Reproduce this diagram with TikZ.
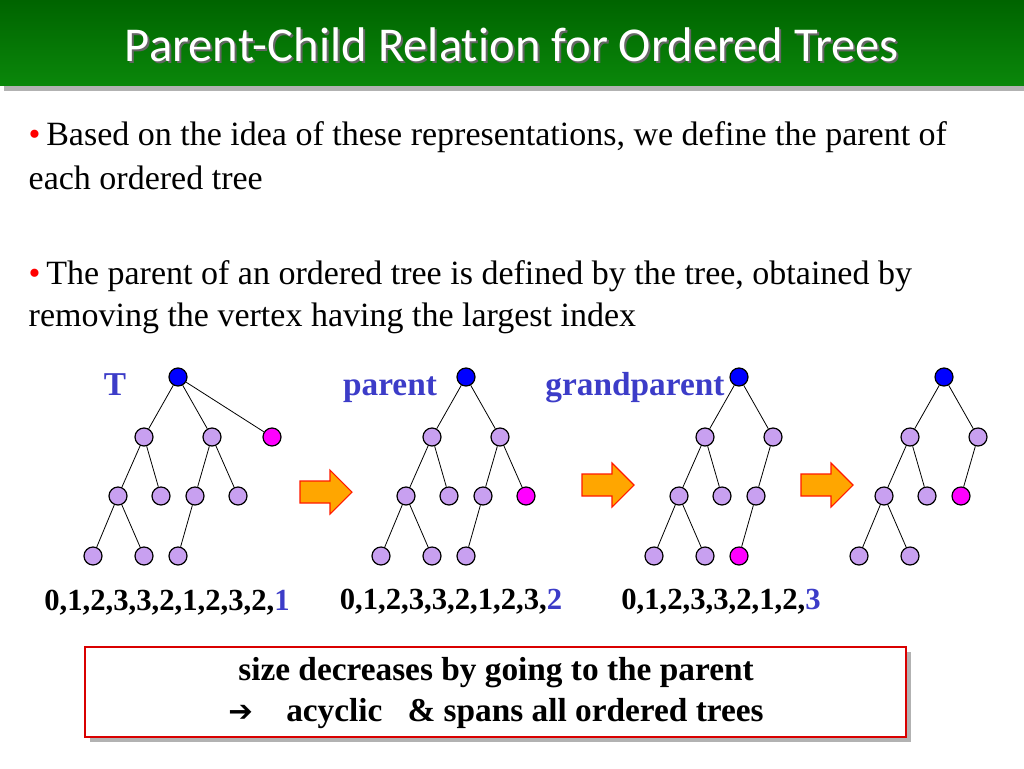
\documentclass[tikz,border=0pt]{standalone}
\usepackage{fontspec}
\setmainfont{Liberation Serif}
\newfontfamily\titlefont[Ligatures={NoCommon}]{Carlito}
\newfontfamily\symfont{DejaVu Sans}
\usetikzlibrary{shadows}
\definecolor{gtop}{RGB}{0,100,0}
\definecolor{gbot}{RGB}{10,135,10}
\definecolor{lav}{RGB}{200,160,240}
\definecolor{mag}{RGB}{255,0,255}
\definecolor{lblue}{RGB}{60,60,200}
\tikzset{
 v/.style={circle,draw=black,line width=0.9pt,fill=lav,minimum size=13.5pt,inner sep=0pt},
 vr/.style={v,fill=blue},
 vm/.style={v,fill=mag},
 e/.style={line width=0.6pt},
 barrow/.style={draw=red!80!orange,fill=orange!70!yellow,line width=0.8pt},
 body/.style={font=\fontsize{25.5}{30}\selectfont,anchor=west},
 seq/.style={font=\fontsize{23}{27}\selectfont\bfseries},
 lbl/.style={font=\fontsize{25}{29}\selectfont\bfseries,text=lblue}
}
\newcommand\blockarrow[2]{\draw[barrow] (#1-26,#2-11) -- (#1+4,#2-11) -- (#1+4,#2-22) -- (#1+26,#2) -- (#1+4,#2+22) -- (#1+4,#2+11) -- (#1-26,#2+11) -- cycle;}
\begin{document}
\begin{tikzpicture}[x=0.75pt,y=-0.75pt]
\useasboundingbox (0,0) rectangle (1024,768);
\fill[white] (0,0) rectangle (1024,768);
\fill[gray!60] (4,85) rectangle (1024,91);
\shade[top color=gtop,bottom color=gbot] (0,0) rectangle (1024,85);
\node[font=\titlefont\fontsize{36.5}{40}\selectfont,text=black!60] at (514,47) {Parent-Child Relation for Ordered Trees};
\node (title) [font=\titlefont\fontsize{36.5}{40}\selectfont,text=white] at (512,45) {Parent-Child Relation for Ordered Trees};
\node (b1) [body] at (24,137) {\textcolor{red}{\textbullet}\,Based on the idea of these representations, we define the parent of};
\node (b1b) [body] at (24,178) {each ordered tree};
\node (b2) [body] at (24,276) {\textcolor{red}{\textbullet}\,The parent of an ordered tree is defined by the tree, obtained by};
\node (b2b) [body] at (24,318) {removing the vertex having the largest index};
% tree 1
\node[vr] (a0) at (178,377) {};
\node[v] (a1) at (144,437) {}; \node[v] (a2) at (212,437) {}; \node[vm] (a3) at (272,437) {};
\node[v] (a4) at (118,496) {}; \node[v] (a5) at (161,496) {}; \node[v] (a6) at (195,496) {}; \node[v] (a7) at (238,496) {};
\node[v] (a8) at (93,556) {}; \node[v] (a9) at (144,556) {}; \node[v] (a10) at (178,556) {};
\draw[e] (a0)--(a1) (a0)--(a2) (a0)--(a3) (a1)--(a4) (a1)--(a5) (a2)--(a6) (a2)--(a7) (a4)--(a8) (a4)--(a9) (a6)--(a10);
% tree 2
\node[vr] (b0) at (466,377) {};
\node[v] (b1n) at (432,437) {}; \node[v] (b2n) at (500,437) {};
\node[v] (b4) at (406,496) {}; \node[v] (b5) at (449,496) {}; \node[v] (b6) at (483,496) {}; \node[vm] (b7) at (526,496) {};
\node[v] (b8) at (381,556) {}; \node[v] (b9) at (432,556) {}; \node[v] (b10) at (466,556) {};
\draw[e] (b0)--(b1n) (b0)--(b2n) (b1n)--(b4) (b1n)--(b5) (b2n)--(b6) (b2n)--(b7) (b4)--(b8) (b4)--(b9) (b6)--(b10);
% tree 3
\node[vr] (c0) at (739,377) {};
\node[v] (c1) at (705,437) {}; \node[v] (c2) at (773,437) {};
\node[v] (c4) at (679,496) {}; \node[v] (c5) at (722,496) {}; \node[v] (c6) at (756,496) {};
\node[v] (c8) at (654,556) {}; \node[v] (c9) at (705,556) {}; \node[vm] (c10) at (739,556) {};
\draw[e] (c0)--(c1) (c0)--(c2) (c1)--(c4) (c1)--(c5) (c2)--(c6) (c4)--(c8) (c4)--(c9) (c6)--(c10);
% tree 4
\node[vr] (d0) at (944,377) {};
\node[v] (d1) at (910,437) {}; \node[v] (d2) at (978,437) {};
\node[v] (d4) at (884,496) {}; \node[v] (d5) at (927,496) {}; \node[vm] (d6) at (961,496) {};
\node[v] (d8) at (859,556) {}; \node[v] (d9) at (910,556) {};
\draw[e] (d0)--(d1) (d0)--(d2) (d1)--(d4) (d1)--(d5) (d2)--(d6) (d4)--(d8) (d4)--(d9);
% arrows
\blockarrow{326}{492}
\blockarrow{608}{485}
\blockarrow{827}{485}
% labels
\node[lbl] (lT) at (115,385) {T};
\node[lbl] (lp) at (390,390) {parent};
\node[lbl] (lg) at (635,388) {grandparent};
\node[seq] (s1) at (167,603) {0,1,2,3,3,2,1,2,3,2,\textcolor{lblue}{1}};
\node[seq] (s2) at (451,602) {0,1,2,3,3,2,1,2,3,\textcolor{lblue}{2}};
\node[seq] (s3) at (721,602) {0,1,2,3,3,2,1,2,\textcolor{lblue}{3}};
% box
\fill[gray!60] (90,652) rectangle (911,742);
\draw[red!85!black,line width=1.2pt,fill=white] (85,647) rectangle (906,737);
\node[font=\fontsize{25}{29}\selectfont\bfseries] (m1) at (496,673) {size decreases by going to the parent};
\node[font=\fontsize{25}{29}\selectfont\bfseries] (m2) at (496,714) {{\symfont\fontsize{22}{24}\selectfont ➔}\quad acyclic \ \ \& spans all ordered trees};
\end{tikzpicture}
\end{document}
